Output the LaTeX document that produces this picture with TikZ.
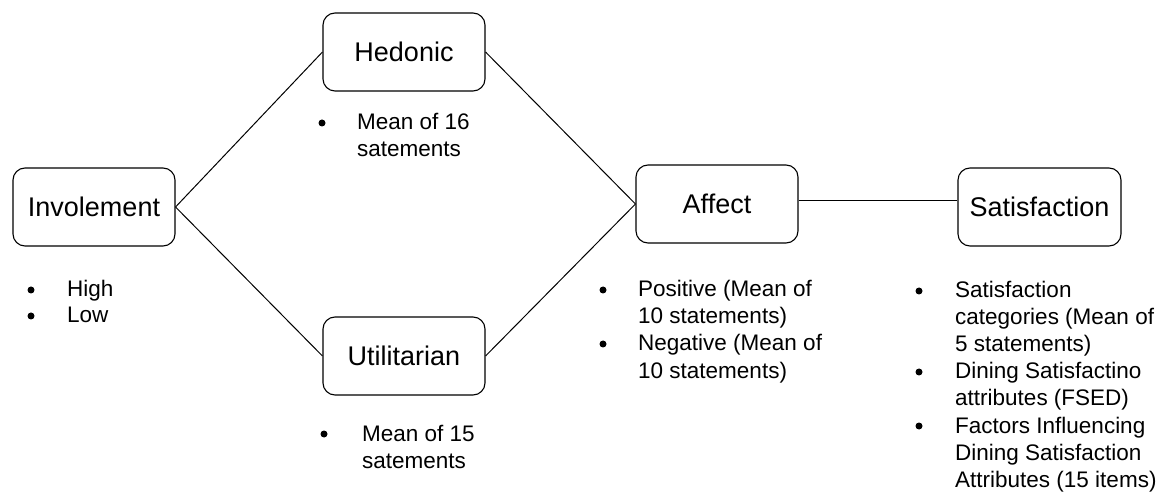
\documentclass[tikz,border=0pt]{standalone}
\usepackage{fontspec}
\setmainfont{Liberation Sans}
\begin{document}
\begin{tikzpicture}[x=1pt,y=-1pt,
  box/.style={draw, line width=1.1pt, rounded corners=12pt, font=\fontsize{27}{32}\selectfont},
  conn/.style={line width=1pt},
  txt/.style={anchor=base west, inner sep=0pt, font=\fontsize{22.5}{27}\selectfont},
  bul/.style={circle, fill=black, inner sep=0pt, minimum size=7pt}]
\useasboundingbox (0,0) rectangle (1168,494);
% boxes
\node[box, minimum width=162pt, minimum height=78pt] (inv) at (94,207) {Involement};
\node[box, minimum width=162pt, minimum height=78pt] (hed) at (404,52) {Hedonic};
\node[box, minimum width=162pt, minimum height=78pt] (uti) at (404,356) {Utilitarian};
\node[box, minimum width=162pt, minimum height=78pt] (aff) at (717,204) {Affect};
\node[box, minimum width=163pt, minimum height=78pt] (sat) at (1039.5,207) {Satisfaction};
% connectors
\draw[conn] (inv.east) -- (hed.west);
\draw[conn] (inv.east) -- (uti.west);
\draw[conn] (hed.east) -- (aff.west);
\draw[conn] (uti.east) -- (aff.west);
\draw[conn] (aff.east |- 0,201) -- (sat.west |- 0,201);
% Involement list
\node[bul] (b1) at (31,290) {};
\node[txt] (t1) at (67,297) {High};
\node[bul] (b2) at (31,316) {};
\node[txt] (t2) at (67,323) {Low};
% Hedonic list
\node[bul] (b3) at (322,123) {};
\node[txt] (t3) at (357,130) {Mean of 16};
\node[txt] (t3b) at (357,157) {satements};
% Utilitarian list
\node[bul] (b4) at (324,434) {};
\node[txt] (t4) at (362,441) {Mean of 15};
\node[txt] (t4b) at (362,468) {satements};
% Affect list
\node[bul] (b5) at (603,290) {};
\node[txt] (t5) at (638,297) {Positive (Mean of};
\node[txt] (t5b) at (638,324) {10 statements)};
\node[bul] (b6) at (603,344) {};
\node[txt] (t6) at (638,351) {Negative (Mean of};
\node[txt] (t6b) at (638,378) {10 statements)};
% Satisfaction list
\node[bul] (b7) at (919,291) {};
\node[txt] (t7) at (955,298) {Satisfaction};
\node[txt] (t7b) at (955,325) {categories (Mean of};
\node[txt] (t7c) at (955,352) {5 statements)};
\node[bul] (b8) at (919,372) {};
\node[txt] (t8) at (955,379) {Dining Satisfactino};
\node[txt] (t8b) at (955,406) {attributes (FSED)};
\node[bul] (b9) at (919,426) {};
\node[txt] (t9) at (955,433) {Factors Influencing};
\node[txt] (t9b) at (955,460) {Dining Satisfaction};
\node[txt] (t9c) at (955,487) {Attributes (15 items)};
\end{tikzpicture}
\end{document}
